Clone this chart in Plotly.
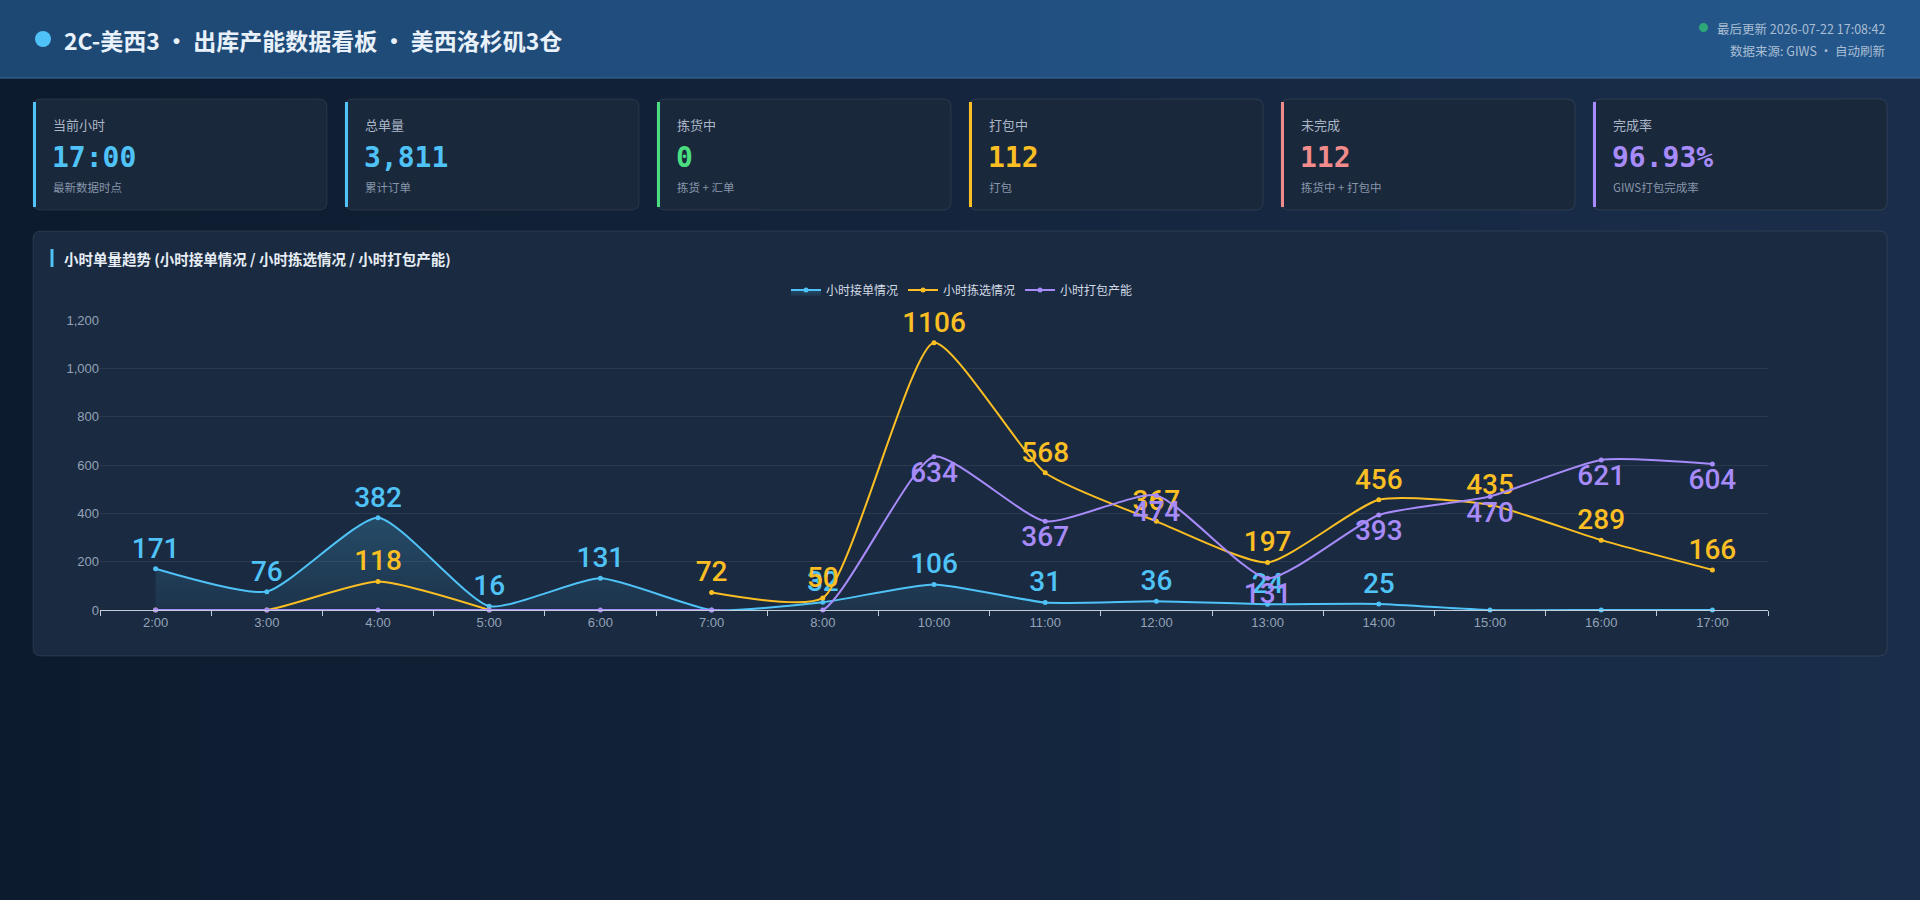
import plotly.graph_objects as go

# -----------------------------
# Data
# -----------------------------
hours = ["2:00", "3:00", "4:00", "5:00", "6:00", "7:00", "8:00", "10:00",
         "11:00", "12:00", "13:00", "14:00", "15:00", "16:00", "17:00"]
orders_in = [171, 76, 382, 16, 131, 0, 32, 106, 31, 36, 24, 25, 0, 0, 0]
picked = [0, 0, 118, 0, None, 72, 50, 1106, 568, 367, 197, 456, 435, 289, 166]
packed = [0, 0, 0, 0, 0, 0, 0, 634, 367, 474, 131, 393, 470, 621, 604]

series_names = ["小时接单情况", "小时拣选情况", "小时打包产能"]

card_labels = ["当前小时", "总单量", "拣货中", "打包中", "未完成", "完成率"]
card_values = ["17:00", "3,811", "0", "112", "112", "96.93%"]
card_subs = ["最新数据时点", "累计订单", "拣货 + 汇单", "打包", "拣货中 + 打包中", "GIWS打包完成率"]

BLUE = "#4fc3f7"
YELLOW = "#fbbf24"
PURPLE = "#a78bfa"
card_colors = [BLUE, BLUE, "#4ade80", YELLOW, "#f28b8b", PURPLE]

CJK = "Noto Sans CJK SC"
MONO = "DejaVu Sans Mono"
NUM = "Roboto"

# -----------------------------
# Pixel -> paper helpers (plot area box)
# -----------------------------
W, H = 1920, 900
L, R, T, B = 100, 1768, 320, 610


def px(x):
    return (x - L) / (R - L)


def py(y):
    return (B - y) / (B - T)


def rrect(x0, y0, x1, y1, r):
    pts = [
        ("M", [(x0 + r, y0)]), ("L", [(x1 - r, y0)]), ("Q", [(x1, y0), (x1, y0 + r)]),
        ("L", [(x1, y1 - r)]), ("Q", [(x1, y1), (x1 - r, y1)]), ("L", [(x0 + r, y1)]),
        ("Q", [(x0, y1), (x0, y1 - r)]), ("L", [(x0, y0 + r)]), ("Q", [(x0, y0), (x0 + r, y0)]),
    ]
    s = ""
    for cmd, coords in pts:
        s += cmd + " ".join(f"{px(a):.5f},{py(b):.5f}" for a, b in coords) + " "
    return s + "Z"


def mix(c1, c2, t):
    a = [int(c1[i:i + 2], 16) for i in (1, 3, 5)]
    b = [int(c2[i:i + 2], 16) for i in (1, 3, 5)]
    return "#" + "".join(f"{round(a[k] + (b[k] - a[k]) * t):02x}" for k in range(3))


shapes = []
annotations = []

# -----------------------------
# Page background + header (gradient strips)
# -----------------------------
n = 48
for i in range(n):
    x0 = W * i / n
    x1 = W * (i + 1) / n + 1
    shapes.append(dict(type="rect", xref="paper", yref="paper", layer="below",
                       x0=px(x0), x1=px(x1), y0=py(H), y1=py(78),
                       fillcolor=mix("#0d1b2e", "#1a2e4b", i / (n - 1)), line_width=0))
    shapes.append(dict(type="rect", xref="paper", yref="paper", layer="below",
                       x0=px(x0), x1=px(x1), y0=py(78), y1=py(0),
                       fillcolor=mix("#1e4874", "#24578b", i / (n - 1)), line_width=0))
shapes.append(dict(type="line", xref="paper", yref="paper", layer="below",
                   x0=px(0), x1=px(W), y0=py(78), y1=py(78),
                   line=dict(color="#3d6c9c", width=1)))

# title dot + title
shapes.append(dict(type="circle", xref="paper", yref="paper", layer="below",
                   x0=px(35), x1=px(51), y0=py(31), y1=py(47),
                   fillcolor=BLUE, line_width=0))
annotations.append(dict(xref="paper", yref="paper", x=px(62), y=py(40),
                        xanchor="left", yanchor="middle", showarrow=False,
                        text="<b>2C-美西3 · 出库产能数据看板 · 美西洛杉矶3仓</b>",
                        font=dict(family=CJK, size=23, color="#e8f1fa")))

shapes.append(dict(type="circle", xref="paper", yref="paper", layer="below",
                   x0=px(1699), x1=px(1708), y0=py(23), y1=py(32),
                   fillcolor="#2fa878", line_width=0))
annotations.append(dict(xref="paper", yref="paper", x=px(1887), y=py(28),
                        xanchor="right", yanchor="middle", showarrow=False,
                        text="最后更新 2026-07-22 17:08:42",
                        font=dict(family=CJK, size=12.5, color="#a9bed3")))
annotations.append(dict(xref="paper", yref="paper", x=px(1887), y=py(50),
                        xanchor="right", yanchor="middle", showarrow=False,
                        text="数据来源: GIWS · 自动刷新",
                        font=dict(family=CJK, size=12.5, color="#a9bed3")))

# -----------------------------
# KPI cards
# -----------------------------
card_w, gap = 294, 18
for i in range(6):
    x0 = 33 + i * (card_w + gap)
    x1 = x0 + card_w
    shapes.append(dict(type="path", xref="paper", yref="paper", layer="below",
                       path=rrect(x0, 99, x1, 210, 8),
                       fillcolor="#1a283b", line=dict(color="rgba(255,255,255,0.09)", width=1)))
    shapes.append(dict(type="line", xref="paper", yref="paper", layer="below",
                       x0=px(x0 + 1.5), x1=px(x0 + 1.5), y0=py(102), y1=py(207),
                       line=dict(color=card_colors[i], width=3)))
    annotations.append(dict(xref="paper", yref="paper", x=px(x0 + 18), y=py(124),
                            xanchor="left", yanchor="middle", showarrow=False,
                            text=card_labels[i], font=dict(family=CJK, size=13, color="#aab6c6")))
    annotations.append(dict(xref="paper", yref="paper", x=px(x0 + 17), y=py(157),
                            xanchor="left", yanchor="middle", showarrow=False,
                            text=f"<b>{card_values[i]}</b>",
                            font=dict(family=MONO, size=28, color=card_colors[i])))
    annotations.append(dict(xref="paper", yref="paper", x=px(x0 + 18), y=py(187),
                            xanchor="left", yanchor="middle", showarrow=False,
                            text=card_subs[i], font=dict(family=CJK, size=11.5, color="#8796aa")))

# -----------------------------
# Chart panel
# -----------------------------
shapes.append(dict(type="path", xref="paper", yref="paper", layer="below",
                   path=rrect(33, 231, 1887, 656, 8),
                   fillcolor="#1a2a40", line=dict(color="rgba(255,255,255,0.09)", width=1)))
shapes.append(dict(type="line", xref="paper", yref="paper", layer="below",
                   x0=px(52), x1=px(52), y0=py(249), y1=py(267),
                   line=dict(color=BLUE, width=3)))
annotations.append(dict(xref="paper", yref="paper", x=px(62), y=py(258),
                        xanchor="left", yanchor="middle", showarrow=False,
                        text="<b>小时单量趋势 (小时接单情况 / 小时拣选情况 / 小时打包产能)</b>",
                        font=dict(family=CJK, size=14.5, color="#e6edf5")))


def labels(vals):
    return ["" if (v is None or v == 0) else str(v) for v in vals]


SMOOTH = 0.55

fig = go.Figure()
fig.add_trace(go.Scatter(
    x=hours, y=orders_in, name=series_names[0], mode="lines+markers+text",
    line=dict(color=BLUE, width=2, shape="spline", smoothing=SMOOTH),
    marker=dict(size=5, color=BLUE),
    fill="tozeroy",
    fillgradient=dict(type="vertical",
                      colorscale=[[0, "rgba(79,195,247,0.06)"], [1, "rgba(79,195,247,0.22)"]]),
    text=labels(orders_in), textposition="top center", cliponaxis=False,
    textfont=dict(family=NUM, size=28, color=BLUE, weight=500),
))
fig.add_trace(go.Scatter(
    x=hours, y=picked, name=series_names[1], mode="lines+markers+text",
    line=dict(color=YELLOW, width=2, shape="spline", smoothing=SMOOTH),
    marker=dict(size=5, color=YELLOW), connectgaps=False,
    text=labels(picked), textposition="top center", cliponaxis=False,
    textfont=dict(family=NUM, size=28, color=YELLOW, weight=500),
))
fig.add_trace(go.Scatter(
    x=hours, y=packed, name=series_names[2], mode="lines+markers+text",
    line=dict(color=PURPLE, width=2, shape="spline", smoothing=SMOOTH),
    marker=dict(size=5, color=PURPLE),
    text=labels(packed), textposition="bottom center", cliponaxis=False,
    textfont=dict(family=NUM, size=28, color=PURPLE, weight=500),
))

fig.update_layout(
    width=W, height=H,
    margin=dict(l=L, r=W - R, t=T, b=H - B, pad=0),
    paper_bgcolor="#13223a",
    plot_bgcolor="rgba(0,0,0,0)",
    shapes=shapes,
    annotations=annotations,
    showlegend=True,
    legend=dict(orientation="h", x=px(962), xanchor="center", y=py(290), yanchor="middle",
                font=dict(family=CJK, size=12, color="#d3dbe6"),
                bgcolor="rgba(0,0,0,0)", itemwidth=30, tracegroupgap=0),
    hovermode=False,
)
fig.update_xaxes(
    type="category", categoryorder="array", categoryarray=hours,
    range=[-0.5, len(hours) - 0.5],
    showline=True, linecolor="#c3ccd8", linewidth=1,
    ticks="outside", tickson="boundaries", ticklen=5, tickcolor="#c3ccd8",
    showgrid=False, zeroline=False,
    tickfont=dict(family="Liberation Sans", size=13, color="#94a3b8"),
)
fig.update_yaxes(
    range=[0, 1200], dtick=200, tickformat=",",
    showgrid=True, gridcolor="rgba(255,255,255,0.07)", gridwidth=1,
    zeroline=False, showline=False,
    tickfont=dict(family="Liberation Sans", size=13, color="#94a3b8"),
)

fig.write_html("out.html", config={"displayModeBar": False},
               post_script="document.body.style.margin='0';")
